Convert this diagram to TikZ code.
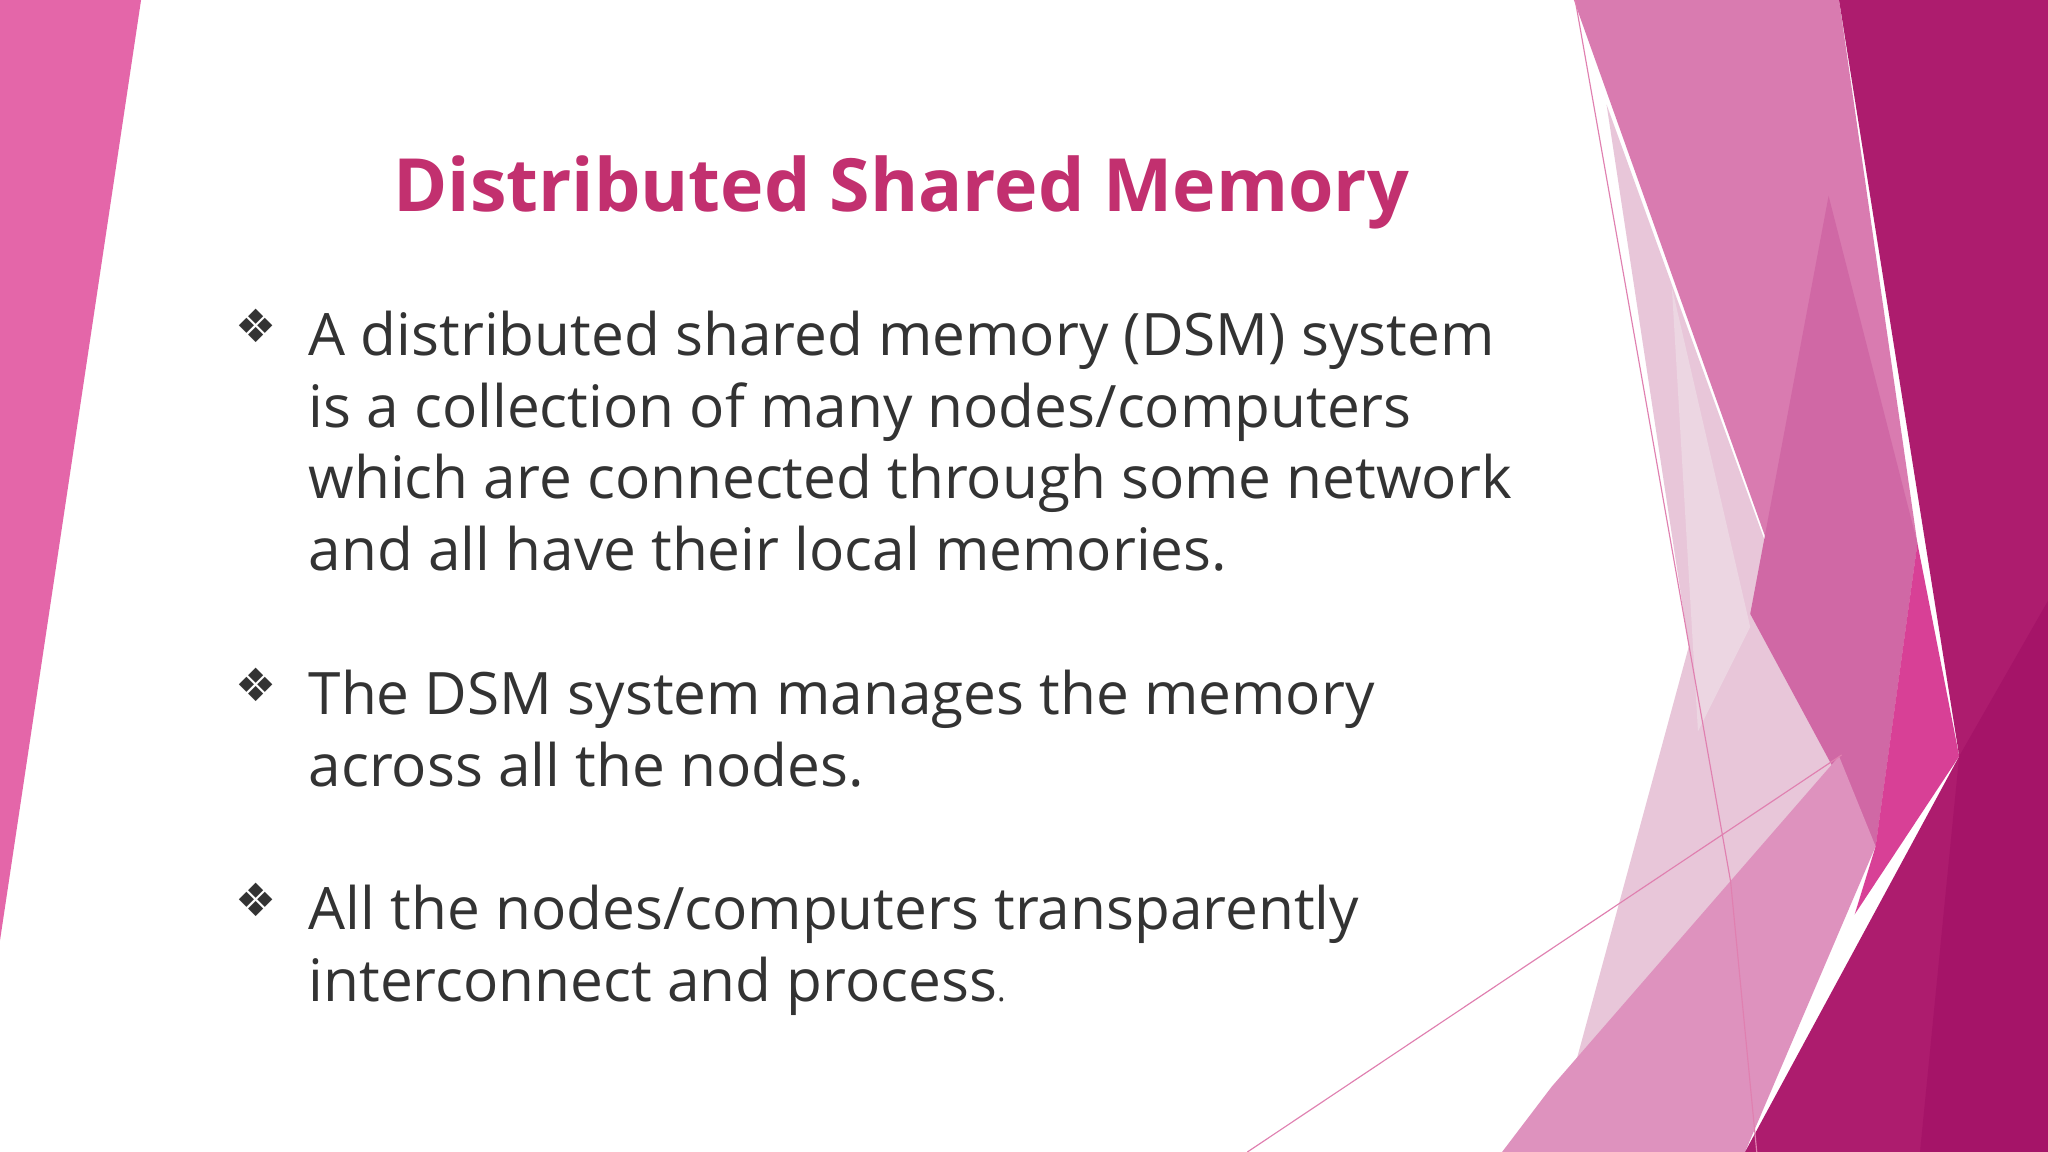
\documentclass[tikz,border=0pt]{standalone}
\usepackage{fontspec}
\setmainfont{Open Sans}
\newfontfamily\symfont{DejaVu Sans}
\definecolor{txt}{HTML}{333333}
\definecolor{ttl}{HTML}{C2306F}
\definecolor{cleft}{HTML}{E466A9}
\definecolor{cpale}{HTML}{E8C6D9}
\definecolor{cpaler}{HTML}{ECD6E2}
\definecolor{ctop}{HTML}{D97BB0}
\definecolor{cmid}{HTML}{D068A5}
\definecolor{cband}{HTML}{DE92BE}
\definecolor{chot}{HTML}{D84096}
\definecolor{cdark}{HTML}{AD1C6E}
\definecolor{cdarker}{HTML}{A51468}
\definecolor{cline}{HTML}{E080B0}
\begin{document}
\begin{tikzpicture}[x=0.02cm,y=-0.02cm,
  line/.style={anchor=base west,inner sep=0,text=txt,font=\fontsize{25.5}{31}\selectfont},
  bul/.style={anchor=base west,inner sep=0,text=txt,font=\symfont\fontsize{20}{24}\selectfont}]
\useasboundingbox (0,0) rectangle (1568,882);
\fill[white] (0,0) rectangle (1568,882);
% left
\fill[cleft] (0,0)--(108,0)--(0,720)--cycle;
% right shapes
\fill[cpale] (1230,80)--(1436,648)--(1202,830)--(1293,495)--cycle;
\fill[cpaler] (1280,220)--(1340,480)--(1300,560)--cycle;
\fill[ctop] (1205,0)--(1408,0)--(1468,416)--(1436,648)--cycle;
\fill[cmid] (1436,648)--(1340,470)--(1400,150)--(1468,416)--cycle;
\fill[cband] (1150,882)--(1336,882)--(1436,648)--(1408,579)--(1188,832)--cycle;
\fill[chot] (1468,416)--(1500,579)--(1420,700)--(1436,648)--cycle;
\fill[cdark] (1408,0)--(1568,0)--(1568,882)--(1336,882)--(1500,579)--cycle;
\fill[cdarker] (1500,579)--(1568,460)--(1568,882)--(1470,882)--cycle;
\draw[cline,line width=0.5pt] (1206,0)--(1325,675)--(1345,882);
\draw[cline,line width=0.5pt] (955,882)--(1410,578);
% title
\node[anchor=base,inner sep=0,text=ttl,font=\bfseries\fontsize{32}{38}\selectfont] (title) at (690,162) {Distributed Shared Memory};
% bullets
\node[bul] (b1) at (180,262) {❖};
\node[bul] (b2) at (180,537) {❖};
\node[bul] (b3) at (180,702) {❖};
\node[line] (l1) at (236,272) {A distributed shared memory (DSM) system};
\node[line] (l2) at (236,327) {is a collection of many nodes/computers};
\node[line] (l3) at (236,382) {which are connected through some network};
\node[line] (l4) at (236,437) {and all have their local memories.};
\node[line] (l5) at (236,547) {The DSM system manages the memory};
\node[line] (l6) at (236,602) {across all the nodes.};
\node[line] (l7) at (236,712) {All the nodes/computers transparently};
\node[line] (l8) at (236,767) {interconnect and process{\fontsize{14}{16}\selectfont.}};
\end{tikzpicture}
\end{document}
